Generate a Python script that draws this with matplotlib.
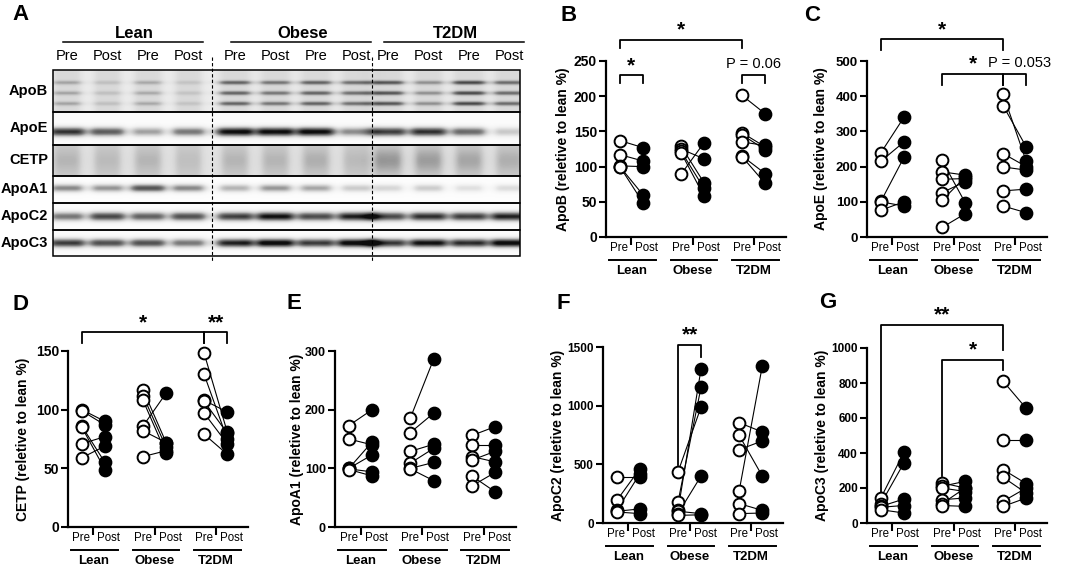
import numpy as np
import matplotlib.pyplot as plt
from matplotlib import transforms

plt.rcParams['font.family'] = ['Liberation Sans', 'DejaVu Sans']

W, H = 1065, 572

GROUPS = ['Lean', 'Obese', 'T2DM']
PHASES = ['Pre', 'Post']

# blot panel: rows and band darkness (0 = none, 1 = black) for the 12 lanes
BLOT_ROWS = ['ApoB', 'ApoE', 'CETP', 'ApoA1', 'ApoC2', 'ApoC3']
BLOT_LANES = ['Pre', 'Post', 'Pre', 'Post'] * 3
APOB_BANDS = [0.22, 0.12, 0.2, 0.1, 0.45, 0.38, 0.45, 0.4, 0.5, 0.28, 0.55, 0.42]
APOE_BANDS = [0.85, 0.7, 0.45, 0.6, 0.97, 0.95, 0.97, 0.5, 0.8, 0.85, 0.65, 0.3]
CETP_BANDS = [0.1, 0.08, 0.1, 0.06, 0.1, 0.1, 0.12, 0.08, 0.2, 0.18, 0.15, 0.12]
APOA1_BANDS = [0.55, 0.5, 0.75, 0.55, 0.4, 0.5, 0.45, 0.3, 0.25, 0.3, 0.2, 0.22]
APOC2_BANDS = [0.6, 0.78, 0.68, 0.75, 0.8, 0.95, 0.75, 0.9, 0.75, 0.85, 0.8, 0.9]
APOC3_BANDS = [0.82, 0.75, 0.75, 0.6, 0.9, 1.0, 0.8, 1.0, 0.8, 0.95, 0.85, 1.0]

# panels B-G: values (relative to lean %) per group, pre and post
APOB_PRE = [[137, 117, 101, 100, 100], [129, 125, 122, 120, 89], [201, 148, 145, 135, 115, 114]]
APOB_POST = [[127, 108, 100, 60, 49], [77, 111, 69, 58, 134], [175, 128, 124, 130, 90, 76]]
APOE_PRE = [[239, 215, 101, 100, 76], [218, 185, 164, 126, 104, 27], [405, 373, 237, 199, 131, 88]]
APOE_POST = [[340, 270, 226, 88, 100], [98, 176, 166, 157, 170, 66], [215, 256, 200, 190, 136, 69]]
CETP_PRE = [[100, 99, 86, 85, 71, 59], [117, 112, 108, 86, 82, 60], [148, 130, 108, 107, 97, 79]]
CETP_POST = [[90, 87, 55, 49, 77, 69], [72, 68, 63, 114, 72, 65], [81, 75, 98, 80, 71, 62]]
APOA1_PRE = [[173, 150, 100, 100, 99, 98], [186, 161, 129, 109, 100, 99], [156, 139, 120, 114, 87, 70]]
APOA1_POST = [[200, 140, 145, 123, 94, 87], [286, 194, 141, 134, 110, 79], [171, 139, 111, 129, 60, 93]]
APOC2_PRE = [[392, 193, 108, 100, 94], [435, 179, 108, 100, 80, 65], [855, 747, 625, 273, 165, 80]]
APOC2_POST = [[392, 463, 420, 120, 80], [989, 1159, 1315, 80, 401, 70], [776, 401, 699, 1335, 108, 85]]
APOC3_PRE = [[143, 110, 95, 90, 76], [229, 210, 200, 133, 110, 100], [810, 476, 305, 261, 124, 95]]
APOC3_POST = [[404, 343, 137, 100, 57], [200, 238, 180, 143, 200, 95], [655, 476, 225, 171, 200, 143]]

# brackets: (from column, to column, top, left foot, right foot, label); columns 0..5 = Lean Pre ... T2DM Post
APOB_SIG = [(0, 4, 280, 268, 268, '*'), (0, 1, 230, 219, 219, '*'), (4, 5, 230, 219, 219, 'P = 0.06')]
APOE_SIG = [(0, 4, 562, 531, 531, '*'), (2, 4, 463, 432, 432, '*'), (4, 5, 463, 432, 432, 'P = 0.053')]
CETP_SIG = [(0, 4, 166, 157, 157, '*'), (4, 5, 166, 157, 157, '**')]
APOA1_SIG = []
APOC2_SIG = [(2, 3, 1520, 491, 1415, '**')]
APOC3_SIG = [(0, 4, 1133, 152, 990, '**'), (2, 4, 933, 267, 876, '*')]

fig = plt.figure(figsize=(W / 100, H / 100), dpi=100)


def px_axes(left, right, top, bottom):
    return fig.add_axes([left / W, 1 - bottom / H, (right - left) / W, (bottom - top) / H])


# ---------------- panel A: blot ----------------
row_h = [42, 33, 31, 27, 27, 26]
row_bg = [0.14, 0.03, 0.2, 0.02, 0.03, 0.03]
row_smear = [0.12, 0.0, 0.12, 0.0, 0.0, 0.0]
bands = [APOB_BANDS, APOE_BANDS, CETP_BANDS, APOA1_BANDS, APOC2_BANDS, APOC3_BANDS]
bw, bh = 467, sum(row_h)
lane_x = np.concatenate([s + 40.5 * np.arange(4) for s in (14, 182, 335)])
xs = np.arange(bw) + 0.5
img = np.zeros((bh, bw))
y0 = 0
for r, h in enumerate(row_h):
    f = (np.arange(h) + 0.5) / h
    if r == 0:
        vprof = sum(np.exp(-((f - c) / 0.05) ** 2) for c in (0.3, 0.55, 0.8))
    elif r == 2:
        vprof = np.exp(-((f - 0.5) / 0.4) ** 2)
    elif r == 1:
        vprof = np.exp(-((f - 0.6) / 0.14) ** 2)
    elif r == 3:
        vprof = np.exp(-((f - 0.45) / 0.15) ** 2)
    else:
        vprof = np.exp(-((f - 0.5) / 0.17) ** 2)
    block = np.full((h, bw), row_bg[r])
    for c, v in zip(lane_x, bands[r]):
        hw = 13 + 6 * v
        xprof = 1 / (1 + ((xs - c) / hw) ** 6)
        block += xprof[None, :] * (row_smear[r] + v * vprof[:, None])
    img[y0:y0 + h] = np.clip(block, 0, 1)
    y0 += h

ax_a = px_axes(53, 53 + bw, 70, 70 + bh)
ax_a.imshow(img, cmap='Greys', vmin=0, vmax=1.05, extent=(0, bw, bh, 0),
            aspect='auto', interpolation='bilinear')
ax_a.set_xlim(0, bw)
ax_a.set_ylim(bh, 0)
ax_a.axis('off')
edges = np.concatenate([[0], np.cumsum(row_h)])
for r, name in enumerate(BLOT_ROWS):
    ax_a.add_patch(plt.Rectangle((0, edges[r]), bw, row_h[r], fill=False, ec='k', lw=1.1, clip_on=False))
    ax_a.text(-5, (edges[r] + edges[r + 1]) / 2, name, ha='right', va='center',
              fontsize=10.5, fontweight='bold')
for c, lab in zip(lane_x, BLOT_LANES):
    ax_a.text(c, -14, lab, ha='center', va='center', fontsize=10.5)
for g, name in enumerate(GROUPS):
    mid = lane_x[4 * g:4 * g + 4].mean() + 5
    ax_a.plot([mid - 70, mid + 70], [-28, -28], color='k', lw=1.1, clip_on=False)
    ax_a.text(mid + 2, -37, name, ha='center', va='center', fontsize=12, fontweight='bold')
for g in (1, 2):
    xd = (lane_x[4 * g - 1] + lane_x[4 * g]) / 2
    ax_a.plot([xd, xd], [-13, bh + 6], color='k', lw=0.8, ls=(0, (3, 2)), clip_on=False)

# ---------------- panels B-G ----------------
pre_x = np.array([0, 2.65, 5.3])
post_x = pre_x + 1
mid_x = pre_x + 0.5
cols = np.ravel(np.column_stack([pre_x, post_x]))


def dot_panel(ax, pre, post, ylabel, yticks, sig, label_gap, tick_fs):
    for g in range(3):
        for a, b in zip(pre[g], post[g]):
            ax.plot([pre_x[g], post_x[g]], [a, b], color='k', lw=0.8, zorder=2)
        ax.plot([pre_x[g]] * len(pre[g]), pre[g], 'o', ms=8.5, mfc='white', mec='k',
                mew=1.4, zorder=3, clip_on=False)
        ax.plot([post_x[g]] * len(post[g]), post[g], 'o', ms=8.5, mfc='k', mec='k',
                mew=1.4, zorder=3, clip_on=False)
    ax.set_xlim(-0.6, 7.2)
    ax.set_ylim(yticks[0], yticks[-1])
    ax.set_yticks(yticks)
    ax.set_yticklabels([str(t) for t in yticks], fontweight='bold', fontsize=tick_fs)
    ax.set_xticks(mid_x)
    ax.set_xticklabels([])
    ax.tick_params(axis='x', width=1.5, length=6)
    ax.tick_params(axis='y', width=1.5, length=5, pad=1.5)
    for s in ('top', 'right'):
        ax.spines[s].set_visible(False)
    for s in ('left', 'bottom'):
        ax.spines[s].set_linewidth(1.6)
    ax.set_ylabel(ylabel, fontweight='bold', fontsize=10)
    ax.yaxis.set_label_coords(-label_gap / 180, 0.5)
    tr = ax.get_xaxis_transform()
    pre_tr = transforms.offset_copy(tr, fig=fig, x=-3, y=-11, units='dots')
    post_tr = transforms.offset_copy(tr, fig=fig, x=4, y=-11, units='dots')
    line_tr = transforms.offset_copy(tr, fig=fig, y=-23, units='dots')
    grp_tr = transforms.offset_copy(tr, fig=fig, y=-34, units='dots')
    for g, name in enumerate(GROUPS):
        ax.text(mid_x[g], 0, PHASES[0], transform=pre_tr, ha='right', va='center', fontsize=8.3)
        ax.text(mid_x[g], 0, PHASES[1], transform=post_tr, ha='left', va='center', fontsize=8.3)
        ax.plot([mid_x[g] - 0.95, mid_x[g] + 1.08], [0, 0], color='k', lw=1.4,
                transform=line_tr, clip_on=False)
        ax.text(mid_x[g], 0, name, transform=grp_tr, ha='center', va='center',
                fontsize=9.5, fontweight='bold')
    for c1, c2, top, f1, f2, lab in sig:
        x1, x2 = cols[c1], cols[c2]
        ax.plot([x1, x1, x2, x2], [f1, top, top, f2], color='k', lw=1.3, clip_on=False)
        if lab.startswith('P'):
            xm = (x1 + x2) / 2 + (0.2 if lab == 'P = 0.053' else 0)
            ax.annotate(lab, (xm, top), xytext=(0, 5), textcoords='offset points',
                        ha='center', va='baseline', fontsize=10.5, annotation_clip=False)
        else:
            ax.annotate(lab, ((x1 + x2) / 2, top), xytext=(0, 3), textcoords='offset points',
                        ha='center', va='baseline', fontsize=15, fontweight='bold',
                        annotation_clip=False)


ax_b = px_axes(606, 786, 61, 237)
dot_panel(ax_b, APOB_PRE, APOB_POST, 'ApoB (reletive to lean %)', [0, 50, 100, 150, 200, 250],
          APOB_SIG, 36, 10)
ax_c = px_axes(867, 1047, 61, 237)
dot_panel(ax_c, APOE_PRE, APOE_POST, 'ApoE (reletive to lean %)', [0, 100, 200, 300, 400, 500],
          APOE_SIG, 39, 9.5)
ax_d = px_axes(68, 248, 351, 527)
dot_panel(ax_d, CETP_PRE, CETP_POST, 'CETP (reletive to lean %)', [0, 50, 100, 150],
          CETP_SIG, 38, 10)
ax_e = px_axes(335, 516, 351, 527)
dot_panel(ax_e, APOA1_PRE, APOA1_POST, 'ApoA1 (reletive to lean %)', [0, 100, 200, 300],
          APOA1_SIG, 31, 9)
ax_f = px_axes(603, 783, 347, 523)
dot_panel(ax_f, APOC2_PRE, APOC2_POST, 'ApoC2 (reletive to lean %)', [0, 500, 1000, 1500],
          APOC2_SIG, 38, 8.5)
ax_g = px_axes(867, 1047, 348, 523)
dot_panel(ax_g, APOC3_PRE, APOC3_POST, 'ApoC3 (reletive to lean %)', [0, 200, 400, 600, 800, 1000],
          APOC3_SIG, 38, 8.5)

for lab, x, y in [('A', 12, 4), ('B', 561, 5), ('C', 804, 5), ('D', 12, 294),
                  ('E', 286, 293), ('F', 556, 293), ('G', 819, 292)]:
    fig.text(x / W, 1 - y / H, lab, ha='left', va='top', fontsize=16, fontweight='bold')

fig.savefig('out.png', dpi=100)
